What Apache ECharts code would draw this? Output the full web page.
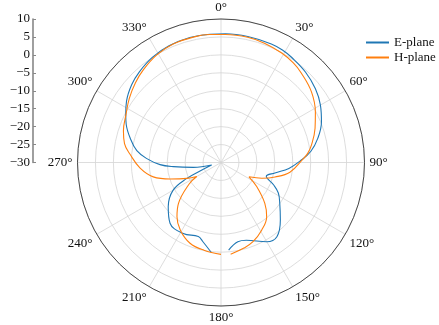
<!DOCTYPE html>
<html>
<head>
<meta charset="utf-8">
<script src="https://cdn.jsdelivr.net/npm/echarts@6/dist/echarts.min.js"></script>
<style>html,body{margin:0;padding:0;background:#fff;}#c{width:439px;height:325px;}</style>
</head>
<body>
<div id="c"></div>
<script>
// E-plane (blue): angle in degrees (clockwise from top), gain in dB
var eAngles = [186,193,197,208,220,230,240,245,248,255,260,265,268,273,278,285,292,297,303,311,318,327,336,346,355,2,12,23,29,34,43,52,60,68,76,83,89,95,101,107,113,118,125,134,143,150,162,168,175];
var eGain   = [-4.7,-7.4,-8.4,-7.6,-7.9,-10.8,-14.6,-19.5,-23.7,-27.3,-22.2,-16.7,-13.0,-9.3,-6.3,-3.8,-1.5,-0.2,1.4,3.0,4.0,5.0,5.6,5.9,5.9,5.9,5.9,5.9,5.7,5.3,4.5,3.4,2.0,0.2,-2.2,-4.8,-8.0,-11.0,-14.7,-16.8,-14.1,-11.9,-10.0,-7.0,-4.1,-4.5,-7.2,-7.4,-5.5];
// H-plane (orange)
var hAngles = [180,191,201,211,219,226,236,240,245,252,258,266,275,281,288,297,305,313,320,329,338,348,355,2,12,20,29,36,42,52,62,70,79,84,88,98,105,111,117,124,133,140,149,158,165,174];
var hGain   = [-4.4,-5.1,-5.9,-8.0,-10.5,-13.5,-19.3,-22.2,-19.5,-15.1,-10.7,-7.4,-4.6,-2.6,-1.4,-0.3,1.2,2.6,3.7,4.9,5.6,5.8,5.8,5.7,5.7,5.4,4.9,4.3,3.5,2.0,-0.2,-2.1,-4.3,-5.7,-7.3,-10.6,-14.4,-17.8,-21.25,-18.0,-13.3,-10.2,-8.0,-6.2,-5.3,-4.3];
var angleTicks = {min:0, max:360, step:30};
var radialTicks = {min:-30, max:10, step:5};
var seriesNames = ['E-plane','H-plane'];

var FONT = '"Liberation Serif", "DejaVu Serif", serif';
function pairs(a, g){ var out=[]; for (var i=0;i<a.length;i++) out.push([g[i], a[i]]); return out; }
function minus(v){ return String(v).replace('-', '\u2212'); }

var chart = echarts.init(document.getElementById('c'), null, {renderer:'canvas'});
chart.setOption({
  animation:false,
  backgroundColor:'#fff',
  polar:{center:[221,162.5], radius:143.5},
  angleAxis:{
    type:'value', min:angleTicks.min, max:angleTicks.max, interval:angleTicks.step,
    startAngle:90, clockwise:true,
    axisLine:{show:true, lineStyle:{color:'#222', width:0.8}},
    axisTick:{show:false},
    axisLabel:{margin:5, fontFamily:FONT, fontSize:13, color:'#111',
      formatter:function(v){ return v===360 ? '' : v+'°'; }},
    splitLine:{show:true, lineStyle:{color:'#d4d4d4', width:0.8}}
  },
  radiusAxis:{
    type:'value', min:radialTicks.min, max:radialTicks.max, interval:radialTicks.step,
    axisLine:{show:false}, axisTick:{show:false}, axisLabel:{show:false},
    splitLine:{show:true, lineStyle:{color:'#d4d4d4', width:0.8}}
  },
  grid:{left:33, top:19, width:10, height:143.5},
  xAxis:{type:'value', show:false, min:0, max:1},
  yAxis:{
    type:'value', min:radialTicks.min, max:radialTicks.max, interval:radialTicks.step,
    position:'left',
    axisLine:{show:true, lineStyle:{color:'#888', width:1.6}},
    axisTick:{show:true, inside:true, length:3, lineStyle:{color:'#888', width:1}},
    axisLabel:{margin:3, fontFamily:FONT, fontSize:13, color:'#111', formatter:minus},
    splitLine:{show:false}
  },
  legend:{
    data:seriesNames, orient:'vertical', left:360, top:31,
    itemWidth:23, itemHeight:14, itemGap:2,
    itemStyle:{opacity:0, color:'rgba(0,0,0,0)', borderWidth:0},
    textStyle:{fontFamily:FONT, fontSize:13, color:'#111'}
  },
  series:[
    {name:seriesNames[0], type:'line', coordinateSystem:'polar', data:pairs(eAngles,eGain),
     symbol:'none', smooth:0.4, lineStyle:{color:'#1f77b4', width:1.1}, itemStyle:{color:'#1f77b4'}},
    {name:seriesNames[1], type:'line', coordinateSystem:'polar', data:pairs(hAngles,hGain),
     symbol:'none', smooth:0.4, lineStyle:{color:'#ff7f0e', width:1.1}, itemStyle:{color:'#ff7f0e'}},
    {type:'line', xAxisIndex:0, yAxisIndex:0, data:[], silent:true}
  ]
});
</script>
</body>
</html>
